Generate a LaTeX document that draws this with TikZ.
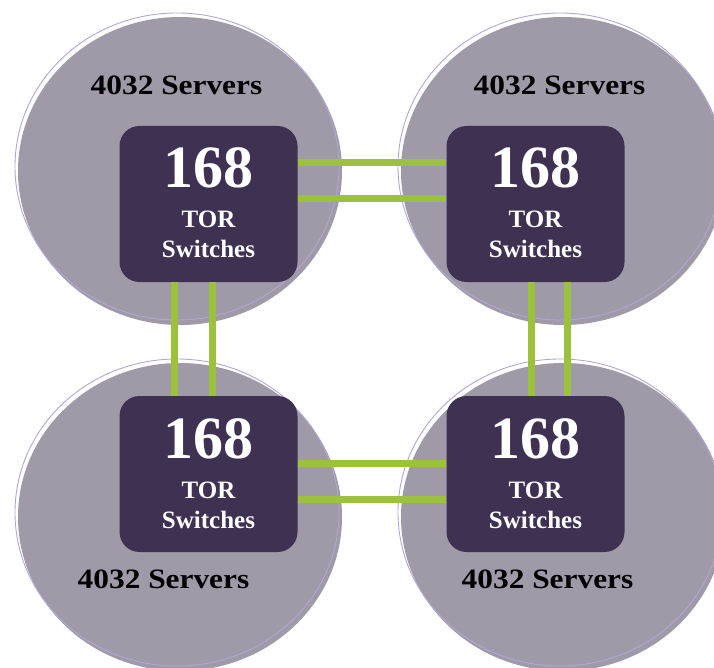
\documentclass[tikz,border=0pt]{standalone}
\usepackage{fontspec}
\setmainfont{Liberation Serif}
\definecolor{discfill}{HTML}{9F99A8}
\definecolor{discrim}{HTML}{B3A6D4}
\definecolor{boxfill}{HTML}{3F3151}
\definecolor{linkgreen}{HTML}{9CC13A}
\tikzset{
  disc/.style={fill=discfill},
  rim/.style={draw=discrim, line width=0.9pt},
  torbox/.style={fill=boxfill, rounded corners=20pt, minimum width=178pt, minimum height=156pt, inner sep=0pt},
  bignum/.style={text=white, font=\bfseries\fontsize{60}{60}\selectfont, anchor=base, inner sep=0pt},
  torlabel/.style={text=white, font=\bfseries\fontsize{25}{25}\selectfont, anchor=base, inner sep=0pt},
  servers/.style={text=black, font=\bfseries\fontsize{28}{28}\selectfont, anchor=base, inner sep=0pt, xscale=1.12},
  link/.style={draw=linkgreen, line width=7pt}
}
\begin{document}
\begin{tikzpicture}[x=1pt,y=-1pt]
\useasboundingbox (0,0) rectangle (714,668);
\clip (0,0) rectangle (714,668);
% discs
\foreach \cx/\cy in {180/171, 563/171, 180/517, 563/517}{
  \fill[disc] (\cx,\cy) ellipse [x radius=162pt, y radius=154pt];
  \draw[rim] (\cx-3,\cy-4.5) ellipse [x radius=162pt, y radius=153.5pt];
}
% boxes
\node[torbox] (tl) at (208.5,204) {};
\node[torbox] (tr) at (535.5,204) {};
\node[torbox] (bl) at (208.5,474) {};
\node[torbox] (br) at (535.5,474) {};
% links
\draw[link] ([yshift=41.5pt]tl.east) -- ([yshift=41.5pt]tr.west);
\draw[link] ([yshift=5pt]tl.east) -- ([yshift=5pt]tr.west);
\draw[link] ([yshift=11pt]bl.east) -- ([yshift=11pt]br.west);
\draw[link] ([yshift=-25pt]bl.east) -- ([yshift=-25pt]br.west);
\draw[link] ([xshift=-34pt]tl.south) -- ([xshift=-34pt]bl.north);
\draw[link] ([xshift=3.5pt]tl.south) -- ([xshift=3.5pt]bl.north);
\draw[link] ([xshift=-4.5pt]tr.south) -- ([xshift=-4.5pt]br.north);
\draw[link] ([xshift=31.5pt]tr.south) -- ([xshift=31.5pt]br.north);
% box texts
\foreach \b in {tl,tr,bl,br}{
  \node[bignum] (\b num) at ([yshift=16pt]\b.center) {168};
  \node[torlabel] (\b tor) at ([yshift=-24pt]\b.center) {TOR};
  \node[torlabel] (\b sw) at ([yshift=-54pt]\b.center) {Switches};
}
% server labels
\node[servers] (stl) at (176.5,95) {4032 Servers};
\node[servers] (str) at (559.5,95) {4032 Servers};
\node[servers] (sbl) at (163.5,588) {4032 Servers};
\node[servers] (sbr) at (547.5,588) {4032 Servers};
\end{tikzpicture}
\end{document}
